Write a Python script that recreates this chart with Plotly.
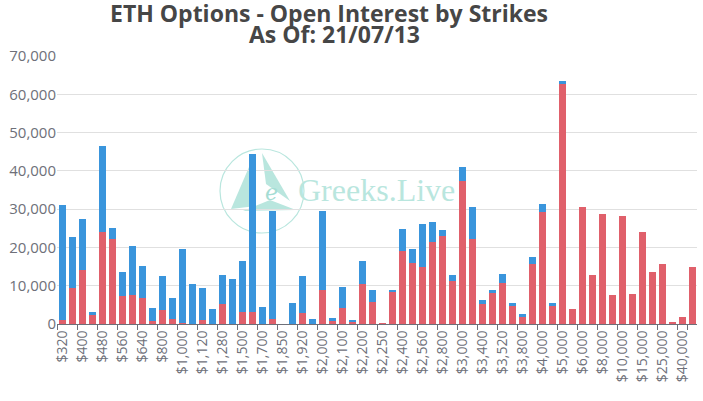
import plotly.graph_objects as go

strikes = ["$320", "$360", "$400", "$440", "$480", "$520", "$560", "$600", "$640", "$720",
           "$800", "$880", "$1,000", "$1,040", "$1,120", "$1,200", "$1,280", "$1,400", "$1,500", "$1,600",
           "$1,700", "$1,800", "$1,850", "$1,900", "$1,920", "$1,950", "$2,000", "$2,050", "$2,100", "$2,150",
           "$2,200", "$2,240", "$2,250", "$2,300", "$2,400", "$2,500", "$2,560", "$2,600", "$2,800", "$2,880",
           "$3,000", "$3,200", "$3,400", "$3,500", "$3,520", "$3,600", "$3,800", "$3,840", "$4,000", "$4,400",
           "$5,000", "$5,500", "$6,000", "$7,000", "$8,000", "$9,000", "$10,000", "$12,000", "$15,000", "$20,000",
           "$25,000", "$30,000", "$40,000", "$50,000"]

puts_oi = [1000, 9400, 14200, 2300, 23950, 22200, 7200, 7630, 6750, 700,
           3600, 1230, 200, 100, 960, 0, 5300, 0, 3160, 3160,
           0, 1320, 0, 100, 2980, 0, 8860, 700, 4300, 530,
           10530, 5750, 200, 8420, 19040, 15960, 14910, 21320, 22980, 11230,
           37460, 22280, 5350, 7980, 10700, 4820, 1840, 15610, 29270, 4890,
           62650, 4010, 30540, 12830, 28710, 7590, 28100, 7850, 24000, 13700,
           15620, 520, 1920, 15010]

total_oi = [31200, 22600, 27500, 3250, 46500, 25100, 13600, 20260, 15090, 4300,
            12630, 6750, 19470, 10530, 9390, 3950, 12850, 11670, 16400, 44470,
            4390, 29390, 0, 5610, 12460, 1400, 29560, 1670, 9560, 790,
            16400, 8900, 200, 8680, 24740, 19560, 26050, 26670, 24470, 12810,
            40960, 30440, 6320, 8770, 12980, 5530, 2630, 17540, 31410, 5410,
            63530, 4010, 30540, 12830, 28710, 7590, 28100, 7850, 24000, 13700,
            15620, 520, 1920, 15010]

calls_oi = [t - p for t, p in zip(total_oi, puts_oi)]

tick_labels = strikes[::2]

title_line1 = "ETH Options - Open Interest by Strikes"
title_line2 = "As Of: 21/07/13"

fig = go.Figure()
fig.add_trace(go.Bar(x=strikes, y=puts_oi, name="Puts", marker=dict(color="#e0606b", line=dict(width=0))))
fig.add_trace(go.Bar(x=strikes, y=calls_oi, name="Calls", marker=dict(color="#3a95dc", line=dict(width=0))))

L, R, T, B = 57, 697, 56, 324
def P(px, py):
    return ((px - L) / (R - L), (B - py) / (B - T))

wm = "#b9e6de"
cx0, cy0 = P(220, 149)
cx1, cy1 = P(304, 233)
fig.add_shape(type="circle", xref="paper", yref="paper", x0=cx0, x1=cx1, y0=cy1, y1=cy0,
              line=dict(color=wm, width=1.2), layer="below")
def tri(pts):
    return "M " + " L ".join(f"{P(*p)[0]:.4f},{P(*p)[1]:.4f}" for p in pts) + " Z"
for pts in [[(231, 209), (252, 160), (256, 206)],
            [(262, 153), (290, 201), (266, 184)],
            [(243, 211), (296, 210), (270, 200)]]:
    fig.add_shape(type="path", xref="paper", yref="paper", path=tri(pts),
                  fillcolor=wm, line=dict(width=0), layer="below")
ex, ey = P(263, 192)
fig.add_annotation(xref="paper", yref="paper", x=ex, y=ey, text="<i>e</i>",
                   showarrow=False, font=dict(family="DejaVu Serif", size=22, color="#a5ddd4"))
gx, gy = P(376, 190)
fig.add_annotation(xref="paper", yref="paper", x=gx, y=gy, text="Greeks.Live",
                   showarrow=False, font=dict(family="Liberation Serif", size=32, color=wm))

t1x, t1y = P(328.5, 13)
t2x, t2y = P(334.5, 34)
fig.add_annotation(xref="paper", yref="paper", x=t1x, y=t1y, yanchor="middle", text="<b>" + title_line1 + "</b>",
                   showarrow=False, font=dict(family="Open Sans", size=23, color="#464646"))
fig.add_annotation(xref="paper", yref="paper", x=t2x, y=t2y, yanchor="middle", text="<b>" + title_line2 + "</b>",
                   showarrow=False, font=dict(family="Open Sans", size=23, color="#464646"))

fig.update_layout(
    barmode="stack",
    bargap=0.3,
    width=703, height=401,
    margin=dict(l=L, r=703 - R, t=T, b=401 - B, autoexpand=False),
    paper_bgcolor="white", plot_bgcolor="white",
    showlegend=False,
    font=dict(family="Open Sans", color="#6e7079"),
    xaxis=dict(type="category", tickmode="array", tickvals=tick_labels, ticktext=tick_labels,
               tickangle=-90, tickson="boundaries", ticks="outside", ticklen=5, tickcolor="#6e7079",
               showline=True, linecolor="#6e7079", linewidth=1, showgrid=False, automargin=False,
               range=[-0.5, len(strikes) - 0.5],
               tickfont=dict(size=14, color="#6e7079")),
    yaxis=dict(range=[0, 70000], dtick=10000, tickformat=",d", showgrid=True, gridcolor="#e0e0e0",
               zeroline=False, showline=False, ticks="", automargin=False,
               tickfont=dict(size=15, color="#6e7079")),
)

fig.write_html("out.html", config={"displayModeBar": False},
               post_script="document.body.style.margin='0';document.body.style.padding='0';")
